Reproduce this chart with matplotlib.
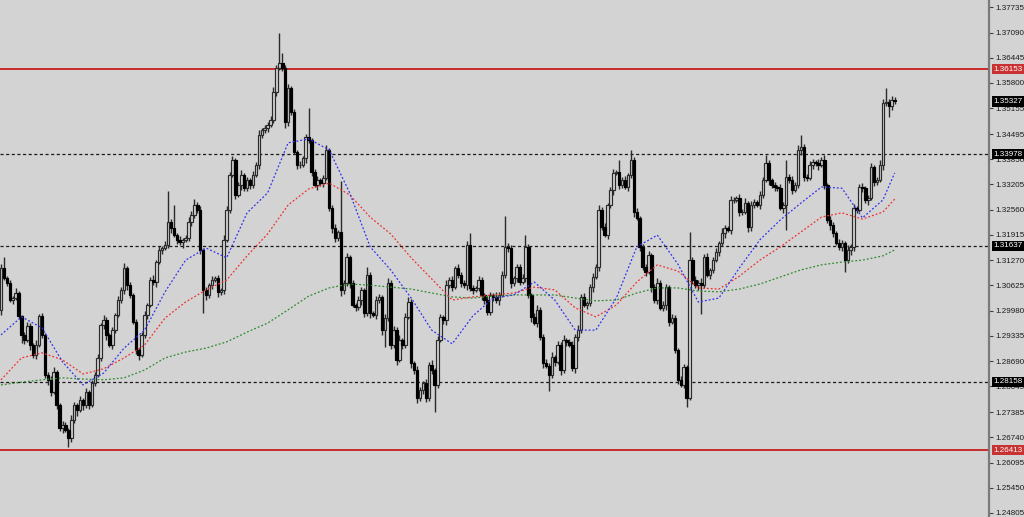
import matplotlib

matplotlib.use("Agg")
import matplotlib.pyplot as plt
import matplotlib.transforms as mtransforms
import numpy as np

plt.rcParams["font.family"] = ["Liberation Sans", "DejaVu Sans"]

BG = "#D3D3D3"

FIRST_OPEN = 1.3000

closes = [
    1.3107, 1.3081, 1.3069, 1.3025, 1.3030, 1.3043, 1.2984, 1.2936, 1.2923, 1.2959,
    1.2910, 1.2885, 1.2910, 1.2984, 1.2936, 1.2833, 1.2821, 1.2790, 1.2841, 1.2757,
    1.2698, 1.2706, 1.2693, 1.2672, 1.2718, 1.2757, 1.2744, 1.2769, 1.2757, 1.2790,
    1.2757, 1.2813, 1.2833, 1.2877, 1.2961, 1.2974, 1.2936, 1.2910, 1.2948, 1.2987,
    1.3025, 1.3051, 1.3107, 1.3063, 1.3038, 1.2969, 1.2897,
    1.2885, 1.2936, 1.2987, 1.3012, 1.3076, 1.3071, 1.3122, 1.3153, 1.3158, 1.3166,
    1.3225, 1.3209, 1.3191, 1.3179, 1.3173, 1.3179, 1.3184, 1.3225, 1.3242, 1.3268,
    1.3255, 1.3153, 1.3051, 1.3038, 1.3063, 1.3076, 1.3081, 1.3046, 1.3051, 1.3179,
    1.3255, 1.3345, 1.3383, 1.3294, 1.3319, 1.3345, 1.3311, 1.3332, 1.3319, 1.3345,
    1.3370, 1.3447, 1.3460,
    1.3465, 1.3473, 1.3485, 1.3557, 1.3618, 1.3631, 1.3618, 1.3480, 1.3567, 1.3506,
    1.3404, 1.3370, 1.3370, 1.3388, 1.3442, 1.3434, 1.3352, 1.3319, 1.3332, 1.3324,
    1.3337, 1.3409, 1.3260, 1.3209, 1.3184, 1.3199, 1.3051, 1.3069, 1.3135, 1.3069,
    1.3012, 1.3007, 1.3025, 1.3051, 1.2992, 1.3089, 1.2992, 1.2987, 1.3025, 1.3033,
    1.2948, 1.2979, 1.3069,
    1.2910, 1.2948, 1.2872, 1.2923, 1.2910, 1.2982, 1.3020, 1.2864, 1.2846, 1.2775,
    1.2795, 1.2813, 1.2775, 1.2859, 1.2846, 1.2808, 1.2923, 1.2982, 1.2974, 1.3063,
    1.3076, 1.3058, 1.3107, 1.3089, 1.3069, 1.3063, 1.3166, 1.3056, 1.3051, 1.3056,
    1.3076, 1.3038, 1.3025, 1.2994, 1.3038, 1.3033, 1.3025, 1.3038, 1.3089, 1.3161,
    1.3158, 1.3069, 1.3081,
    1.3110, 1.3071, 1.3081, 1.3161, 1.3038, 1.2982, 1.2966, 1.3000, 1.2931, 1.2864,
    1.2856, 1.2833, 1.2879, 1.2867, 1.2910, 1.2846, 1.2923, 1.2918, 1.2910, 1.2851,
    1.2931, 1.2948, 1.3033, 1.3012, 1.3017, 1.3058, 1.3084, 1.3110, 1.3255, 1.3212,
    1.3191, 1.3268, 1.3306, 1.3350, 1.3352, 1.3319, 1.3332, 1.3314, 1.3345, 1.3383,
    1.3250, 1.3235, 1.3161, 1.3110,
    1.3097, 1.3140, 1.3058, 1.3025, 1.3069, 1.3005, 1.3012, 1.3058, 1.2969, 1.2979,
    1.2897, 1.2821, 1.2808, 1.2854, 1.2775, 1.3127, 1.3076, 1.3063, 1.3069, 1.3063,
    1.3135, 1.3089, 1.3102, 1.3127, 1.3148, 1.3171, 1.3196, 1.3209, 1.3204, 1.3281,
    1.3281, 1.3286, 1.3250, 1.3250, 1.3273, 1.3212, 1.3268, 1.3276, 1.3268, 1.3294,
    1.3332, 1.3375, 1.3332, 1.3319,
    1.3314, 1.3311, 1.3260, 1.3268, 1.3340, 1.3332, 1.3306, 1.3319, 1.3409, 1.3416,
    1.3340, 1.3337, 1.3370, 1.3378, 1.3375, 1.3370, 1.3383, 1.3319, 1.3230, 1.3217,
    1.3196, 1.3171, 1.3161, 1.3171, 1.3127, 1.3153, 1.3161, 1.3260, 1.3255, 1.3314,
    1.3311, 1.3281, 1.3286, 1.3365, 1.3327, 1.3332, 1.3370, 1.3529, 1.3531, 1.3521,
    1.3537, 1.3533,
]

# wick lengths above / below the body, in pips
upper_wick_pips = [
    10, 28, 6, 8, 5, 12, 6, 4, 8, 10, 8, 5, 12, 6, 9, 4, 7, 10, 12, 6,
    5, 10, 8, 6, 12, 8, 5, 10, 6, 9, 5, 8, 7, 10, 6, 12, 8, 5, 9, 6,
    10, 8, 13, 6, 8, 5, 7,
    6, 8, 10, 5, 8, 12, 6, 9, 5, 10, 78, 8, 60, 6, 10, 5, 8, 12, 10, 15,
    8, 10, 6, 8, 5, 10, 6, 8, 5, 12, 10, 8, 10, 6, 8, 12, 6, 8, 5, 10,
    8, 12, 6,
    8, 6, 10, 12, 8, 78, 26, 8, 10, 6, 8, 5, 10, 6, 8, 75, 6, 8, 10, 6,
    8, 12, 6, 8, 10, 6, 130, 8, 10, 6, 8, 5, 10, 8, 6, 20, 8, 6, 10, 8,
    6, 10, 12,
    6, 10, 8, 12, 6, 10, 12, 8, 6, 10, 8, 6, 10, 8, 12, 6, 10, 8, 6, 12,
    8, 10, 6, 10, 8, 6, 10, 30, 8, 6, 10, 8, 6, 10, 8, 6, 12, 8, 10, 78,
    10, 8, 6,
    8, 6, 10, 30, 8, 6, 10, 12, 8, 6, 10, 8, 12, 6, 10, 8, 12, 6, 8, 10,
    6, 12, 8, 10, 6, 8, 10, 6, 12, 8, 10, 6, 8, 10, 6, 30, 8, 10, 6, 26,
    8, 10, 6, 8,
    8, 10, 6, 8, 12, 6, 10, 8, 6, 10, 8, 6, 10, 8, 6, 73, 8, 10, 6, 12,
    8, 10, 6, 8, 10, 6, 12, 8, 6, 10, 8, 6, 10, 8, 12, 6, 10, 8, 6, 10,
    8, 20, 8, 6,
    8, 6, 10, 8, 44, 6, 10, 8, 12, 31, 8, 6, 10, 8, 6, 10, 8, 12, 6, 10,
    8, 6, 10, 8, 6, 12, 8, 10, 6, 8, 10, 6, 8, 10, 6, 8, 12, 10, 36, 8,
    10, 6,
]
lower_wick_pips = [
    12, 6, 8, 5, 10, 6, 8, 20, 10, 6, 12, 8, 10, 6, 9, 8, 12, 10, 6, 10,
    8, 12, 6, 23, 10, 8, 15, 6, 12, 8, 10, 6, 9, 5, 8, 10, 14, 6, 10, 8,
    5, 7, 10, 12, 8, 6, 10,
    14, 6, 8, 10, 6, 8, 12, 5, 10, 6, 8, 12, 6, 10, 8, 15, 6, 8, 10, 6,
    8, 10, 60, 12, 8, 10, 6, 12, 8, 10, 6, 8, 5, 10, 6, 12, 8, 6, 10, 8,
    6, 10, 8,
    8, 10, 6, 8, 10, 6, 8, 15, 10, 8, 6, 10, 8, 6, 12, 8, 10, 6, 12, 8,
    10, 6, 8, 12, 10, 8, 15, 10, 8, 12, 6, 10, 8, 12, 10, 8, 12, 6, 10, 8,
    12, 44, 8,
    10, 8, 12, 6, 10, 8, 6, 12, 10, 14, 8, 10, 12, 8, 10, 70, 8, 6, 10, 12,
    8, 10, 6, 8, 10, 6, 12, 8, 10, 6, 8, 12, 10, 8, 6, 10, 8, 12, 6, 8,
    10, 12, 8,
    10, 8, 6, 10, 8, 12, 6, 10, 8, 12, 6, 40, 8, 10, 6, 12, 8, 10, 6, 8,
    12, 10, 8, 6, 10, 8, 12, 6, 10, 8, 6, 10, 8, 12, 6, 10, 8, 6, 10, 8,
    12, 6, 10, 8,
    10, 6, 12, 8, 10, 6, 8, 12, 10, 6, 8, 10, 6, 8, 23, 6, 10, 8, 12, 73,
    8, 6, 10, 8, 6, 10, 8, 12, 6, 10, 8, 6, 10, 8, 6, 12, 10, 8, 6, 10,
    8, 6, 12, 8,
    10, 8, 6, 12, 65, 8, 10, 6, 8, 12, 10, 8, 6, 10, 8, 12, 6, 10, 8, 12,
    10, 6, 8, 10, 31, 8, 12, 10, 8, 6, 10, 8, 12, 6, 10, 8, 6, 12, 8, 28,
    10, 8,
]

# moving averages, read every 7th bar (plus the last one)
ma_bar = [0, 7, 14, 21, 28, 35, 42, 49, 56, 63, 70, 77, 84, 91, 98, 105, 112, 119,
          126, 133, 140, 147, 154, 161, 168, 175, 182, 189, 196, 203, 210, 217, 224,
          231, 238, 245, 252, 259, 266, 273, 280, 287, 294, 301, 305]
ma_fast = [
    1.2936, 1.2982, 1.2954, 1.2867, 1.2808, 1.2838, 1.2902, 1.2948, 1.3046, 1.3127,
    1.3158, 1.3133, 1.3248, 1.3299, 1.3427, 1.3437, 1.3409, 1.3299, 1.3161, 1.3102,
    1.3030, 1.2948, 1.2913, 1.2984, 1.3030, 1.3038, 1.3071, 1.3025, 1.2948, 1.2948,
    1.3030, 1.3161, 1.3191, 1.3117, 1.3020, 1.3030, 1.3107, 1.3179, 1.3230, 1.3273,
    1.3314, 1.3311, 1.3235, 1.3281, 1.3350,
]
ma_mid = [
    1.2821, 1.2877, 1.2890, 1.2872, 1.2836, 1.2849, 1.2877, 1.2910, 1.2979, 1.3020,
    1.3051, 1.3076, 1.3138, 1.3194, 1.3268, 1.3309, 1.3324, 1.3294, 1.3237, 1.3194,
    1.3133, 1.3079, 1.3025, 1.3033, 1.3038, 1.3043, 1.3058, 1.3051, 1.3005, 1.2982,
    1.3012, 1.3071, 1.3115, 1.3099, 1.3056, 1.3053, 1.3086, 1.3127, 1.3161, 1.3199,
    1.3237, 1.3248, 1.3232, 1.3250, 1.3283,
]
ma_slow = [
    1.2808, 1.2815, 1.2821, 1.2826, 1.2823, 1.2821, 1.2826, 1.2846, 1.2877, 1.2892,
    1.2902, 1.2918, 1.2943, 1.2966, 1.3000, 1.3035, 1.3056, 1.3066, 1.3063, 1.3058,
    1.3053, 1.3043, 1.3033, 1.3030, 1.3035, 1.3038, 1.3038, 1.3038, 1.3030, 1.3023,
    1.3025, 1.3043, 1.3056, 1.3056, 1.3048, 1.3046, 1.3053, 1.3066, 1.3084, 1.3102,
    1.3115, 1.3122, 1.3127, 1.3138, 1.3153,
]

resistance_levels = [1.36153, 1.26413]
dashed_levels = [1.33978, 1.31637, 1.28158]
current_price = 1.35327

price_ticks = [1.37735, 1.37090, 1.36445, 1.35800, 1.35155, 1.34495, 1.33850,
               1.33205, 1.32560, 1.31915, 1.31270, 1.30625, 1.29980, 1.29335,
               1.28690, 1.28045, 1.27385, 1.26740, 1.26095, 1.25450, 1.24805]


def draw_candles(ax, opens, highs, lows, closes_arr):
    x = np.arange(len(closes_arr))
    up = closes_arr >= opens
    ax.vlines(x, lows, highs, color="#2a2a2a", linewidth=1.0, zorder=3)
    bottom = np.minimum(opens, closes_arr)
    height = np.maximum(np.abs(closes_arr - opens), 0.00004)
    ax.bar(x[up], height[up], bottom=bottom[up], width=0.85,
           facecolor=BG, edgecolor="#2a2a2a", linewidth=0.85, zorder=4)
    ax.bar(x[~up], height[~up], bottom=bottom[~up], width=0.85,
           facecolor="black", edgecolor="black", linewidth=0.85, zorder=4)


def main() -> None:
    close_arr = np.array(closes)
    open_arr = np.concatenate([[FIRST_OPEN], close_arr[:-1]])
    high_arr = np.maximum(open_arr, close_arr) + np.array(upper_wick_pips) * 0.0001
    low_arr = np.minimum(open_arr, close_arr) - np.array(lower_wick_pips) * 0.0001

    fig = plt.figure(figsize=(10.24, 5.17), dpi=100, facecolor=BG)
    ax = fig.add_axes([0, 0, 989 / 1024, 1])
    ax.set_facecolor(BG)

    for level in resistance_levels:
        ax.axhline(level, color="#C81E1E", linewidth=1.3, zorder=2)
    for level in dashed_levels:
        ax.axhline(level, color="#1a1a1a", linewidth=0.9,
                   linestyle=(0, (2.5, 2)), zorder=2)

    ma_style = dict(linewidth=0.9, linestyle=(0, (1.5, 1.6)), zorder=5)
    ax.plot(ma_bar, ma_slow, color="#2E8B2E", **ma_style)
    ax.plot(ma_bar, ma_mid, color="#F03030", **ma_style)
    ax.plot(ma_bar, ma_fast, color="#3030F0", **ma_style)

    draw_candles(ax, open_arr, high_arr, low_arr, close_arr)

    ax.set_xlim(-0.34, 337.2)
    ax.set_ylim(1.24702, 1.37922)

    for side in ("left", "top", "bottom"):
        ax.spines[side].set_visible(False)
    ax.spines["right"].set_color("#7a7a7a")
    ax.spines["right"].set_linewidth(1.6)
    ax.set_xticks([])
    ax.yaxis.tick_right()
    ax.set_yticks(price_ticks)
    ax.set_yticklabels([f"{v:.5f}" for v in price_ticks])
    ax.tick_params(axis="y", direction="out", length=3, width=0.8,
                   color="#404040", labelsize=5.8, labelcolor="#1a1a1a", pad=1.5)

    trans = mtransforms.blended_transform_factory(ax.transAxes, ax.transData)
    boxes = [(current_price, "black")]
    boxes += [(v, "black") for v in dashed_levels]
    boxes += [(v, "#C83232") for v in resistance_levels]
    for value, color in boxes:
        ax.text(1.0045, value, f"{value:.5f}", transform=trans, ha="left",
                va="center", color="white", fontsize=5.8, clip_on=False,
                zorder=10,
                bbox=dict(boxstyle="square,pad=0.2", facecolor=color,
                          edgecolor="none"))

    fig.savefig("out.png", dpi=100, facecolor=BG)
    plt.close(fig)


if __name__ == "__main__":
    main()
